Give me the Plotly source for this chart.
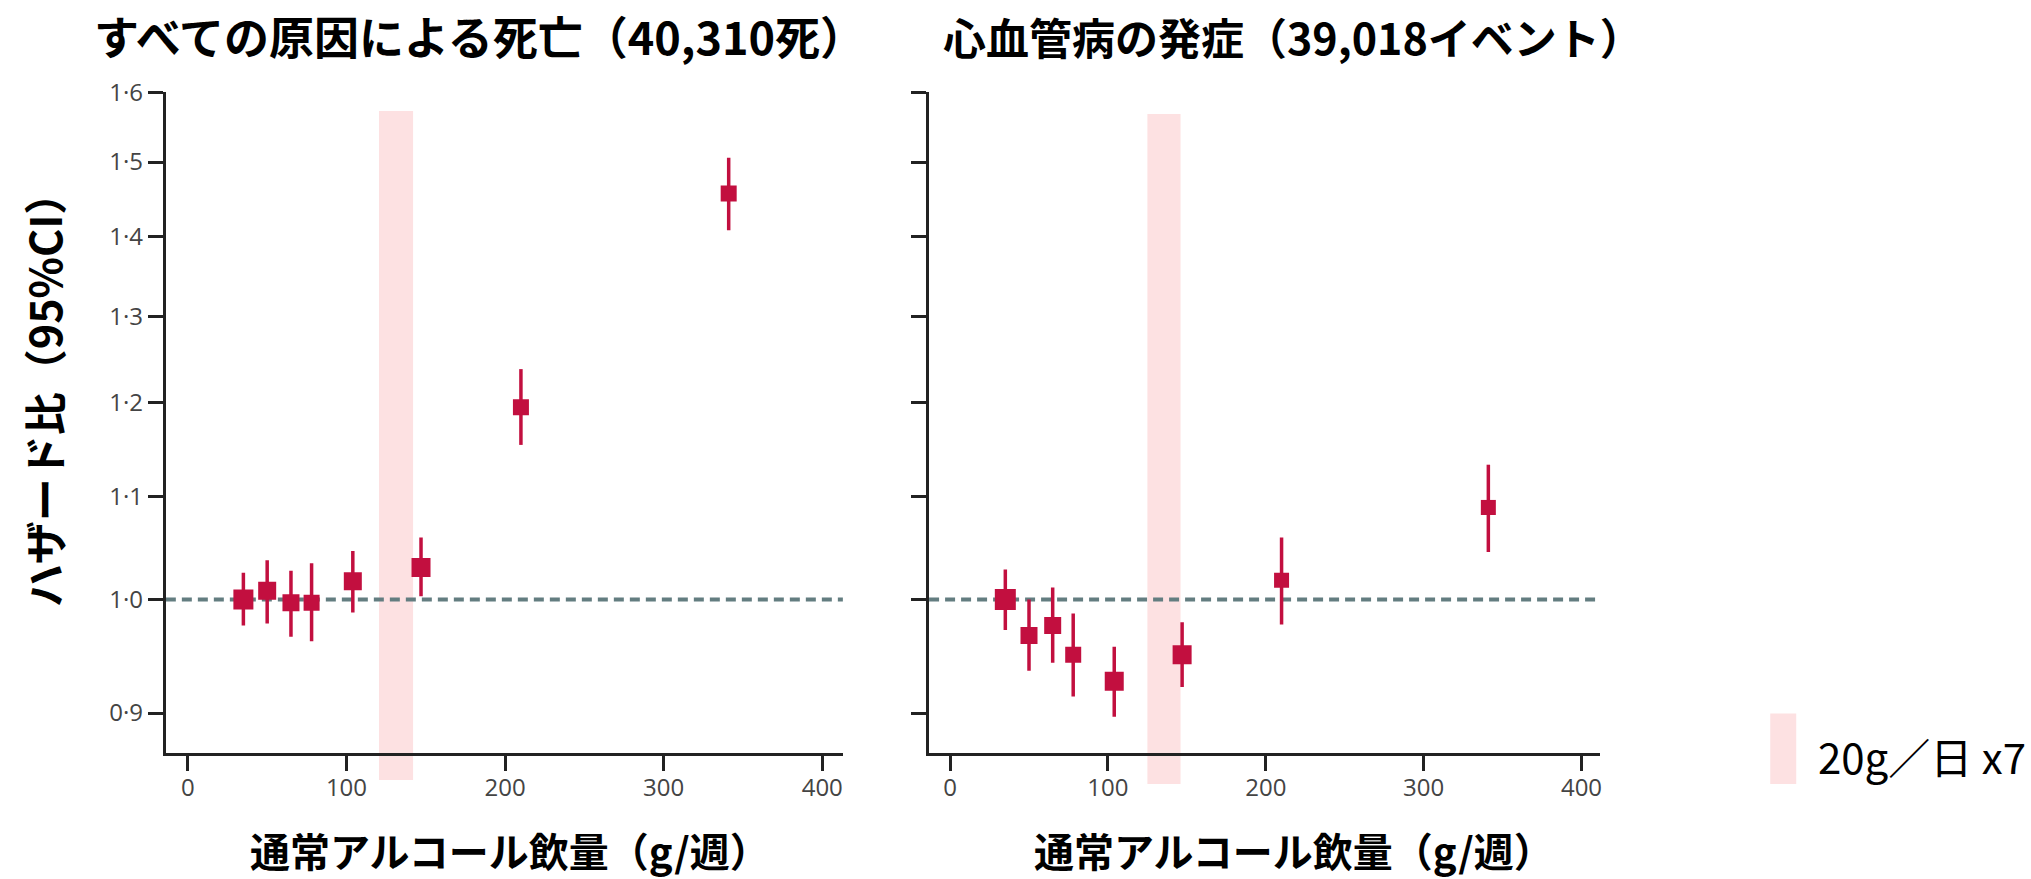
import math
import plotly.graph_objects as go

# ---------------- data ----------------
intake_all = [35, 50, 65, 78, 104, 147, 210, 341]
hr_all = [1.000, 1.008, 0.997, 0.997, 1.017, 1.030, 1.195, 1.457]
lo_all = [0.976, 0.978, 0.966, 0.962, 0.988, 1.003, 1.154, 1.408]
hi_all = [1.025, 1.037, 1.027, 1.034, 1.046, 1.059, 1.238, 1.506]

intake_cvd = [35, 50, 65, 78, 104, 147, 210, 341]
hr_cvd = [1.000, 0.967, 0.976, 0.950, 0.927, 0.950, 1.018, 1.089]
lo_cvd = [0.972, 0.936, 0.943, 0.914, 0.897, 0.922, 0.977, 1.045]
hi_cvd = [1.028, 1.000, 1.011, 0.987, 0.957, 0.979, 1.059, 1.133]

band_all = [120.5, 142]
band_cvd = [125, 146]
reference_hr = 1.0

y_ticks = [0.9, 1.0, 1.1, 1.2, 1.3, 1.4, 1.5, 1.6]
y_ticktext = ["0·9", "1·0", "1·1", "1·2", "1·3", "1·4", "1·5", "1·6"]
x_ticks = [0, 100, 200, 300, 400]

title_all = "すべての原因による死亡（40,310死）"
title_cvd = "心血管病の発症（39,018イベント）"
y_title = "ハザード比（95%CI）"
x_title = "通常アルコール飲量（g/週）"
legend_text = "20g／日 x7"

# ---------------- styles ----------------
W, H = 2031, 879
RED = "#c20f3f"
PINK = "#fde1e2"
DOT = "#637d80"
AX = "#222222"
TICKFONT = dict(family="Open Sans", size=24, color="#444444")
CJK = "Noto Sans CJK JP"

size_all = [20, 18, 17, 16, 18, 19, 16, 16]
size_cvd = [21, 17, 17, 16, 19, 19, 15, 15]

y_top_px, y_bot_px = 76, 750.7
y_domain = [(H - y_bot_px) / H, (H - y_top_px) / H]
y_range = [math.log10(0.867), math.log10(1.6)]
dom_h = y_bot_px - y_top_px

left_px = [166, 843.7]
right_px = [930, 1602]
x_range_l = [-13.9, 413]
x_range_r = [-13.3, 412]

fig = go.Figure()


def add_panel(x, hr, lo, hi, sizes, xa, ya):
    fig.add_trace(go.Scatter(
        x=x, y=hr, mode="markers", xaxis=xa, yaxis=ya,
        marker=dict(symbol="square", color=RED, size=sizes, opacity=1,
                    line=dict(width=0)),
        error_y=dict(type="data", symmetric=False,
                     array=[h - m for h, m in zip(hi, hr)],
                     arrayminus=[m - l for m, l in zip(hr, lo)],
                     color=RED, thickness=3.5, width=0),
        showlegend=False, hoverinfo="skip"))


add_panel(intake_all, hr_all, lo_all, hi_all, size_all, "x", "y")
add_panel(intake_cvd, hr_cvd, lo_cvd, hi_cvd, size_cvd, "x2", "y2")

axis_common = dict(showgrid=False, zeroline=False, showline=True, linecolor=AX,
                   linewidth=3, ticks="outside", ticklen=15, tickwidth=3,
                   tickcolor=AX, tickfont=TICKFONT)

fig.update_layout(
    width=W, height=H, autosize=False,
    margin=dict(l=0, r=0, t=0, b=0),
    paper_bgcolor="white", plot_bgcolor="white",
    xaxis=dict(domain=[left_px[0] / W, left_px[1] / W], range=x_range_l,
               tickvals=x_ticks, anchor="y", ticklabelstandoff=-4, **axis_common),
    yaxis=dict(domain=y_domain, type="log", range=y_range, tickvals=y_ticks,
               ticktext=y_ticktext, anchor="x", **axis_common),
    xaxis2=dict(domain=[right_px[0] / W, right_px[1] / W], range=x_range_r,
                tickvals=x_ticks, anchor="y2", ticklabelstandoff=-4, **axis_common),
    yaxis2=dict(domain=y_domain, type="log", range=y_range, tickvals=y_ticks,
                showticklabels=False, anchor="x2", **axis_common),
)


# shaded 20 g/day x 7 bands (pixel extents converted to axis-domain units)
def dom(py):
    return (y_bot_px - py) / dom_h


fig.add_shape(type="rect", xref="x", yref="y domain", x0=band_all[0], x1=band_all[1],
              y0=dom(778), y1=dom(95), fillcolor=PINK, line_width=0, layer="below")
fig.add_shape(type="rect", xref="x2", yref="y2 domain", x0=band_cvd[0], x1=band_cvd[1],
              y0=dom(782), y1=dom(98), fillcolor=PINK, line_width=0, layer="below")

# reference lines at HR = 1
for xr, yr in (("x domain", "y"), ("x2 domain", "y2")):
    fig.add_shape(type="line", xref=xr, yref=yr, x0=0, x1=1,
                  y0=reference_hr, y1=reference_hr,
                  line=dict(color=DOT, width=4, dash="10px,6px"), layer="below")


def label(text, cx, cy, size, bold=True, angle=0, xanchor="center"):
    fig.add_annotation(text=f"<b>{text}</b>" if bold else text,
                       xref="paper", yref="paper", x=cx / W, y=1 - cy / H,
                       xanchor=xanchor, yanchor="middle", showarrow=False,
                       textangle=angle,
                       font=dict(family=CJK, size=size, color="black"))


label(title_all, 480, 18, 45)
label(title_cvd, 1294, 18, 43)
label(y_title, 43, 379, 43, angle=-90)
label(x_title, 511, 849, 40)
label(x_title, 1295, 849, 40)

# legend swatch
fig.add_shape(type="rect", xref="paper", yref="paper",
              x0=1772 / W, x1=1798 / W, y0=1 - 782 / H, y1=1 - 710 / H,
              fillcolor=PINK, line_width=0)
label(legend_text, 1818, 753, 42, bold=False, xanchor="left")

fig.write_html("out.html", config={"displayModeBar": False},
               post_script="document.body.style.margin='0';")
